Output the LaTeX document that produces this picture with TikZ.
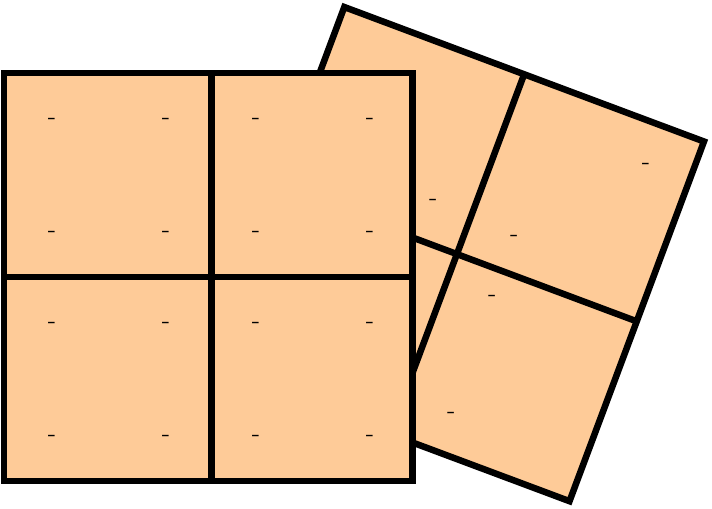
\documentclass[tikz,border=0pt]{standalone}
\definecolor{tilefill}{RGB}{254,203,152}
\begin{document}
\begin{tikzpicture}[x=0.02cm, y=-0.02cm, line width=0.13cm, line join=miter,
    sign/.style={font=\Large, inner sep=0pt, yshift=-2pt}]
  \useasboundingbox (0,0) rectangle (712,508);
  \pgfmathsetmacro{\R}{192}
  % back square, turned
  \begin{scope}[shift={(456.9,254.1)}, rotate=-20.5]
    \filldraw[fill=tilefill] (-\R,-\R) rectangle (\R,\R);
    \draw (0,-\R) -- (0,\R);
    \draw (-\R,0) -- (\R,0);
  \end{scope}
  \node[sign] (b-1) at (433.3,199.3) {-};
  \node[sign] (b-2) at (514.3,235) {-};
  \node[sign] (b-3) at (492.3,295) {-};
  \node[sign] (b-4) at (646,163.3) {-};
  \node[sign] (b-5) at (451.3,412.3) {-};
  % front square
  \filldraw[fill=tilefill] (4.2,73) rectangle (412.3,481);
  \draw (211.3,73) -- (211.3,481);
  \draw (4.2,277) -- (412.3,277);
  \foreach \x [count=\i] in {52,166,256,370}
    \foreach \y [count=\j] in {118,231,322,435}
    {
      \node[sign] (f-\i-\j) at (\x,\y) {-};
    }
\end{tikzpicture}
\end{document}
